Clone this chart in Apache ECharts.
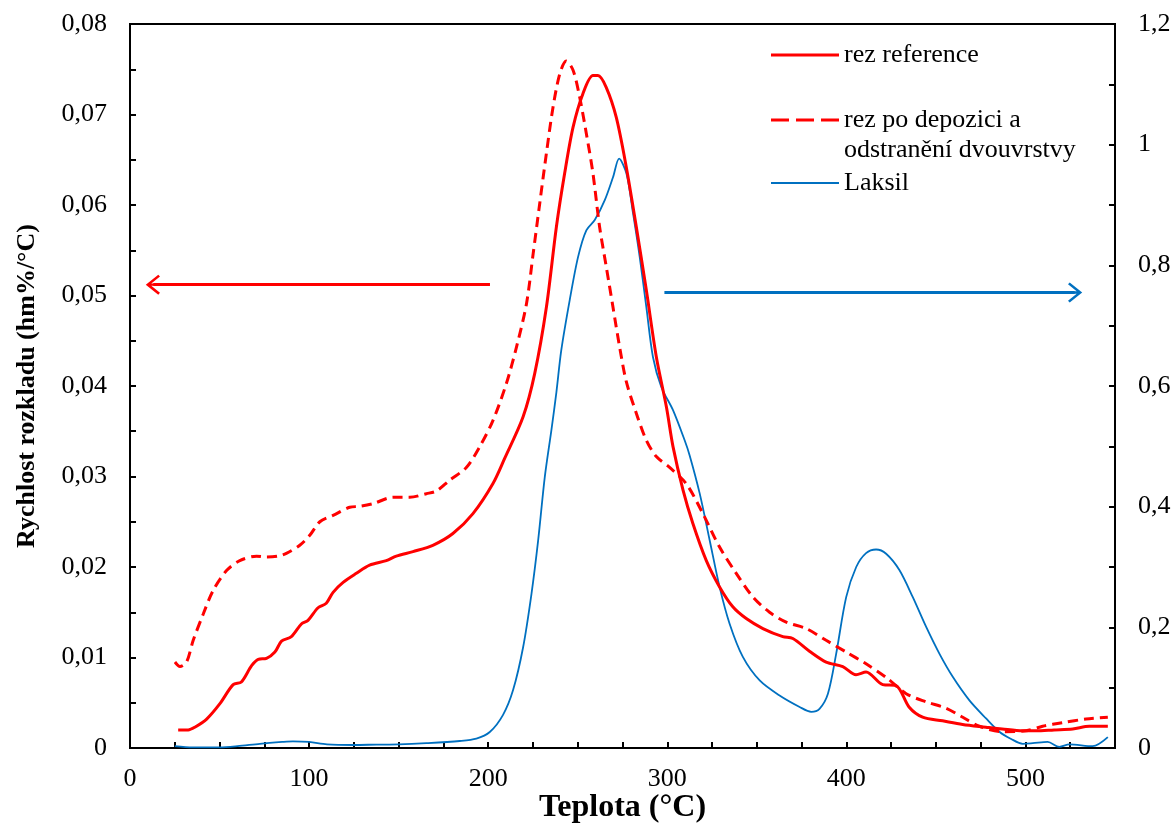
<!DOCTYPE html>
<html>
<head>
<meta charset="utf-8">
<script src="https://cdn.jsdelivr.net/npm/echarts@6/dist/echarts.min.js"></script>
<style>
html,body{margin:0;padding:0;background:#fff;}
#chart{width:1174px;height:825px;}
</style>
</head>
<body>
<div id="chart"></div>
<script>
// Reference (rez reference) - left axis
var refT = [26.9,32.5,36.2,42.8,50.2,57.6,62.2,67.9,71.6,76.2,80.9,84.6,90.1,95.7,99.4,105,109.6,113.4,119,126.4,133.8,143.1,148.7,158,169.1,180.3,191.5,202.6,209.2,219.5,226,232.5,238.1,242.7,247.4,252.9,258.5,261.3,265.9,271.5,277.1,282.7,288.3,293.9,299.5,303.2,308.8,314.3,321.8,329.2,336.6,344.1,353.4,364.5,370.1,379.4,388.7,398,405.4,411,420.3,427.7,435.1,442.6,453.7,464.9,477.9,487,498.5,505.9,516,526.4,535.7,546];
var refRate = [0.0020,0.0020,0.0023,0.0032,0.0049,0.0070,0.0073,0.0091,0.0098,0.0099,0.0106,0.0118,0.0123,0.0137,0.0141,0.0155,0.0160,0.0172,0.0183,0.0193,0.0202,0.0207,0.0212,0.0217,0.0224,0.0237,0.0259,0.0292,0.0320,0.0366,0.0414,0.0487,0.0576,0.0635,0.0686,0.0723,0.0743,0.0743,0.0730,0.0697,0.0642,0.0576,0.0506,0.0432,0.0377,0.0333,0.0285,0.0248,0.0207,0.0178,0.0156,0.0143,0.0132,0.0123,0.0121,0.0107,0.0095,0.0090,0.0081,0.0084,0.0070,0.0069,0.0045,0.0034,0.0030,0.0026,0.0023,0.0021,0.0019,0.0019,0.0020,0.0021,0.0024,0.0024];

// rez po depozici a odstranění dvouvrstvy - left axis
var depT = [25.1,27.9,31.6,35.3,40.9,46.4,53.9,61.3,70.6,76.2,82.7,87.3,94.8,100.4,106,113.4,122.7,128.3,135.7,146.9,156.2,165.5,171.1,178.5,187.8,195.3,202.7,210.2,215.8,221.4,225.1,228.8,232.5,236.2,240,243.6,247.4,251.1,254.8,258.5,262.2,266,269.7,273.4,277.1,282.7,288.3,293.9,301.3,310.6,319.9,329.2,338.5,347.8,357.1,366.4,377.6,388.7,399.9,411,422.2,433.4,444.5,455.7,465,474.3,487.3,500.4,509.6,520.8,533.8,546];
var depRate = [0.0095,0.0090,0.0095,0.0119,0.0148,0.0174,0.0196,0.0207,0.0212,0.0211,0.0212,0.0215,0.0224,0.0235,0.0250,0.0257,0.0266,0.0267,0.0270,0.0277,0.0277,0.0281,0.0284,0.0296,0.0310,0.0333,0.0362,0.0403,0.0443,0.0491,0.0546,0.0602,0.0657,0.0708,0.0745,0.0759,0.0749,0.0719,0.0679,0.0635,0.0576,0.0531,0.0487,0.0443,0.0405,0.0370,0.0340,0.0322,0.0310,0.0292,0.0259,0.0222,0.0193,0.0167,0.0150,0.0139,0.0132,0.0119,0.0106,0.0093,0.0078,0.0060,0.0051,0.0044,0.0034,0.0024,0.0018,0.0019,0.0024,0.0028,0.0032,0.0034];

// Laksil - right axis
var laksilT = [25,35,50,60,72.5,85,91,100,110,125,137.6,150,165.5,184.1,193.4,200.9,208.3,213.9,219.5,224.2,227.9,231.6,235.3,238.1,240.8,245.5,250.2,254.8,259.5,265.1,269.7,273.1,277.2,280.9,284.6,288.3,292,296.7,303.2,309.7,312.5,318.1,323.7,329.2,334.8,342.2,351.6,362.7,373.9,380.4,385,389.7,394.3,399.9,405.5,411,416.6,422.2,429.6,437.1,444.5,452,459.4,468.7,478,485.4,492,498.5,504.1,512.4,518.9,524.5,537.5,546];
var laksilRate = [0.003,0.001,0.001,0.003,0.007,0.010,0.011,0.010,0.006,0.005,0.0056,0.006,0.008,0.0116,0.0155,0.0265,0.055,0.096,0.167,0.256,0.344,0.449,0.527,0.59,0.659,0.742,0.814,0.858,0.875,0.908,0.946,0.977,0.952,0.886,0.814,0.731,0.648,0.598,0.560,0.510,0.485,0.422,0.344,0.267,0.206,0.151,0.112,0.087,0.068,0.060,0.065,0.090,0.156,0.250,0.300,0.323,0.329,0.322,0.295,0.250,0.201,0.156,0.118,0.079,0.049,0.027,0.015,0.007,0.008,0.010,0.002,0.006,0.003,0.018];

// Axis ranges and labels
var xMin = 0, xMax = 550, xTickStep = 25, xLabelStep = 100;
var yLeftMax = 0.08, yLeftTickStep = 0.005, yLeftLabelStep = 0.01;
var yRightMax = 1.2, yRightTickStep = 0.1, yRightLabelStep = 0.2;

// Annotation arrows (data coordinates)
var arrowLeft = {from: 201, to: 13, y: 0.0512};
var arrowRight = {from: 298.4, to: 527.5, y: 0.755};

var names = ['rez reference', 'rez po depozici a\nodstranění dvouvrstvy', 'Laksil'];

function zip(a, b) { return a.map(function (v, i) { return [v, b[i]]; }); }
function isMult(v, step) { var r = v / step; return Math.abs(r - Math.round(r)) < 1e-6; }

var FONT = 'Liberation Serif';
var arrowPath = 'path://M10,0 L20,12.5 L18.2,14.2 L11.2,5.5 L11.2,15 L8.8,15 L8.8,5.5 L1.8,14.2 L0,12.5 Z';
var iconSolid = 'path://M0,0 L68,0 L68,3 L0,3 Z';
var iconDashed = 'path://M0,0 L18,0 L18,3 L0,3 Z M25,0 L43,0 L43,3 L25,3 Z M50,0 L68,0 L68,3 L50,3 Z';
var iconThin = 'path://M0,0 L68,0 L68,2 L0,2 Z';

var chart = echarts.init(document.getElementById('chart'), null, {renderer: 'canvas'});

function legendFor(item, top, extraText) {
  return {
    orient: 'vertical', left: 766, top: top, itemWidth: 68, itemHeight: 20,
    selectedMode: false, symbolKeepAspect: true,
    itemStyle: {borderWidth: 0},
    data: [item],
    formatter: extraText ? function (n) { return ' \n' + n; } : undefined,
    textStyle: {fontFamily: FONT, fontSize: 26, color: '#000', lineHeight: 30}
  };
}

var option = {
  backgroundColor: '#fff',
  animation: false,
  grid: {left: 130, right: 59, top: 24, bottom: 77, show: true, borderColor: '#000', borderWidth: 2,
         containLabel: false, outerBoundsMode: 'none'},
  legend: [
    legendFor({name: names[0], icon: iconSolid}, 35, false),
    legendFor({name: names[1], icon: iconDashed}, 70, true),
    legendFor({name: names[2], icon: iconThin}, 163, false)
  ],
  xAxis: {
    type: 'value', min: xMin, max: xMax, interval: xTickStep,
    name: 'Teplota (°C)', nameLocation: 'middle', nameGap: 44, nameMoveOverlap: false,
    nameTextStyle: {fontFamily: FONT, fontSize: 32, fontWeight: 'bold', color: '#000'},
    axisLine: {lineStyle: {color: '#000', width: 2}},
    axisTick: {inside: true, length: 6, lineStyle: {color: '#000', width: 2}},
    splitLine: {show: false},
    axisLabel: {fontFamily: FONT, fontSize: 26, color: '#000', margin: 18,
      formatter: function (v) { return (isMult(v, xLabelStep) && v < xMax) ? String(v) : ''; }}
  },
  yAxis: [
    {
      type: 'value', min: 0, max: yLeftMax, interval: yLeftTickStep, position: 'left',
      name: 'Rychlost rozkladu (hm%/°C)', nameLocation: 'middle', nameGap: 90, nameMoveOverlap: false,
      nameTextStyle: {fontFamily: FONT, fontSize: 26, fontWeight: 'bold', color: '#000'},
      axisLine: {show: true, lineStyle: {color: '#000', width: 2}},
      axisTick: {show: true, inside: true, length: 6, lineStyle: {color: '#000', width: 2}},
      splitLine: {show: false},
      axisLabel: {fontFamily: FONT, fontSize: 26, color: '#000', margin: 23,
        formatter: function (v) {
          if (!isMult(v, yLeftLabelStep)) return '';
          if (Math.abs(v) < 1e-9) return '0';
          return v.toFixed(2).replace('.', ',');
        }}
    },
    {
      type: 'value', min: 0, max: yRightMax, interval: yRightTickStep, position: 'right',
      axisLine: {show: true, lineStyle: {color: '#000', width: 2}},
      axisTick: {show: true, inside: true, length: 6, lineStyle: {color: '#000', width: 2}},
      splitLine: {show: false},
      axisLabel: {fontFamily: FONT, fontSize: 26, color: '#000', margin: 23,
        formatter: function (v) {
          if (!isMult(v, yRightLabelStep)) return '';
          return String(Math.round(v * 10) / 10).replace('.', ',');
        }}
    }
  ],
  series: [
    {
      name: names[0], type: 'line', yAxisIndex: 0, data: zip(refT, refRate),
      showSymbol: false, symbol: 'none', smooth: 0.3, z: 3,
      lineStyle: {color: '#FF0000', width: 3}, itemStyle: {color: '#FF0000'},
      markLine: {
        silent: true, symbol: ['none', arrowPath], symbolSize: [20, 15],
        label: {show: false}, lineStyle: {color: '#FF0000', width: 3, type: 'solid'},
        emphasis: {disabled: true},
        data: [[{coord: [arrowLeft.from, arrowLeft.y]}, {coord: [arrowLeft.to, arrowLeft.y]}]]
      }
    },
    {
      name: names[1], type: 'line', yAxisIndex: 0, data: zip(depT, depRate),
      showSymbol: false, symbol: 'none', smooth: 0.3, z: 3,
      lineStyle: {color: '#FF0000', width: 3, type: [10, 6]}, itemStyle: {color: '#FF0000'}
    },
    {
      name: names[2], type: 'line', yAxisIndex: 1, data: zip(laksilT, laksilRate),
      showSymbol: false, symbol: 'none', smooth: 0.3, z: 2,
      lineStyle: {color: '#0070C0', width: 1.8}, itemStyle: {color: '#0070C0'},
      markLine: {
        silent: true, symbol: ['none', arrowPath], symbolSize: [20, 15],
        label: {show: false}, lineStyle: {color: '#0070C0', width: 3, type: 'solid'},
        emphasis: {disabled: true},
        data: [[{coord: [arrowRight.from, arrowRight.y]}, {coord: [arrowRight.to, arrowRight.y]}]]
      }
    }
  ]
};
chart.setOption(option);
</script>
</body>
</html>
